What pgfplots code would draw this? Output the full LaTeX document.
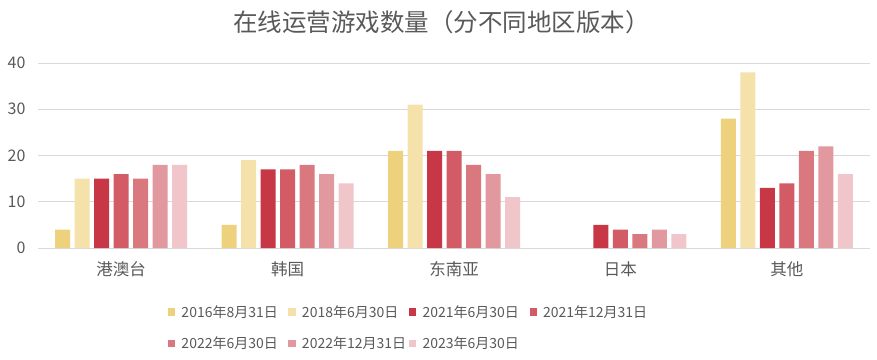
\documentclass[border=0pt]{standalone}
\usepackage{pgfplots}
\pgfplotsset{compat=1.18}
\usepackage{fontspec}
\setmainfont{Noto Sans CJK SC}
\definecolor{c1}{HTML}{EDD17C}
\definecolor{c2}{HTML}{F4E2AA}
\definecolor{c3}{HTML}{C83746}
\definecolor{c4}{HTML}{D35B66}
\definecolor{c5}{HTML}{DA7880}
\definecolor{c6}{HTML}{E2989F}
\definecolor{c7}{HTML}{F0C6CB}
\definecolor{txt}{HTML}{595959}
\definecolor{gridc}{HTML}{D9D9D9}
\begin{document}
\begin{tikzpicture}
\useasboundingbox (0,0) rectangle (877pt,359pt);
\begin{axis}[
  at={(38pt,111pt)}, anchor=south west,
  scale only axis, width=832pt, height=185pt,
  xmin=-0.5, xmax=4.5, ymin=0, ymax=40,
  ybar=4.5pt, bar width=15pt,
  xtick={0,1,2,3,4},
  xticklabels={港澳台,韩国,东南亚,日本,其他},
  ytick={0,10,20,30,40},
  /pgf/number format/assume math mode=true,
  major tick length=0pt,
  axis on top=false,
  axis x line*=bottom, axis y line*=left,
  x axis line style={gridc, line width=0.8pt},
  y axis line style={draw=none},
  ymajorgrids, grid style={gridc, line width=0.8pt},
  tick label style={txt},
  xticklabel style={yshift=-10pt, font=\fontsize{16.5}{19}\selectfont},
  yticklabel style={xshift=-9pt, font=\fontsize{16}{19}\selectfont},
  title={在线运营游戏数量（分不同地区版本）},
  title style={at={(0.485,1)}, anchor=center, yshift=35pt, txt, font=\fontsize{24.5}{28}\selectfont},
  legend columns=4,
  legend style={draw=none, fill=none, inner sep=0pt, at={(0.156,-0.30)}, anchor=north west,
    font=\fontsize{14}{17}\selectfont, text=txt,
    /tikz/every even column/.append style={column sep=8pt},
    /tikz/every odd column/.append style={column sep=4pt},
    row sep=14pt},
  legend cell align=left,
  legend image code/.code={\fill[#1] (0pt,-3.5pt) rectangle (7.5pt,4pt);},
]
\addplot[draw=none, fill=c1] coordinates {(0,4) (1,5) (2,21) (4,28)};
\addlegendentry{\makebox[97pt][l]{2016年8月31日}}
\addplot[draw=none, fill=c2] coordinates {(0,15) (1,19) (2,31) (4,38)};
\addlegendentry{\makebox[97pt][l]{2018年6月30日}}
\addplot[draw=none, fill=c3] coordinates {(0,15) (1,17) (2,21) (3,5) (4,13)};
\addlegendentry{\makebox[97pt][l]{2021年6月30日}}
\addplot[draw=none, fill=c4] coordinates {(0,16) (1,17) (2,21) (3,4) (4,14)};
\addlegendentry{\makebox[97pt][l]{2021年12月31日}}
\addplot[draw=none, fill=c5] coordinates {(0,15) (1,18) (2,18) (3,3) (4,21)};
\addlegendentry{\makebox[97pt][l]{2022年6月30日}}
\addplot[draw=none, fill=c6] coordinates {(0,18) (1,16) (2,16) (3,4) (4,22)};
\addlegendentry{\makebox[97pt][l]{2022年12月31日}}
\addplot[draw=none, fill=c7] coordinates {(0,18) (1,14) (2,11) (3,3) (4,16)};
\addlegendentry{\makebox[97pt][l]{2023年6月30日}}
\end{axis}
\end{tikzpicture}
\end{document}
